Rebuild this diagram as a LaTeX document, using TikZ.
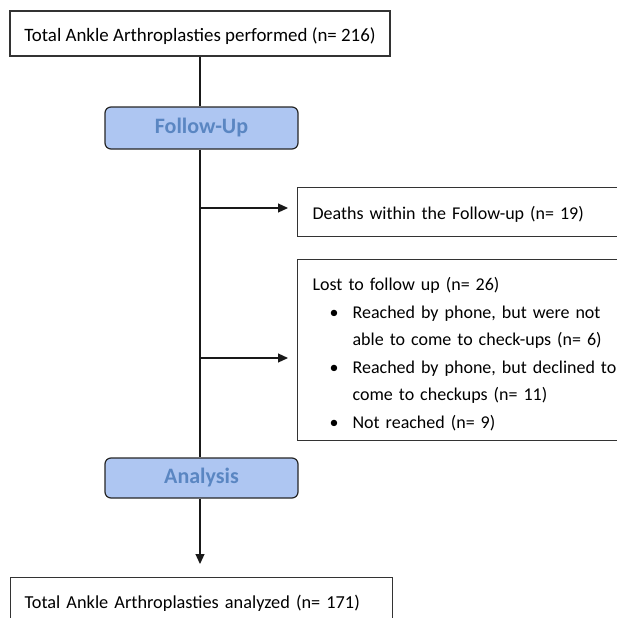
\documentclass[tikz,border=0pt]{standalone}
\usepackage{fontspec}
\setmainfont{Carlito}
\usetikzlibrary{arrows.meta}
\definecolor{phasefill}{HTML}{AEC6F2}
\definecolor{phasetext}{HTML}{5A86C2}
\tikzset{
  countbox/.style={draw=black!80, line width=1.2pt, fill=white, inner xsep=14pt, font=\fontsize{18}{27.5}\selectfont},
  phasebox/.style={draw=black!85, line width=1.2pt, fill=phasefill, rounded corners=6pt,
    minimum width=193pt, minimum height=42pt, text=phasetext, font=\fontsize{22}{24}\selectfont\bfseries},
  flow/.style={line width=1.2pt, black!90},
  flowarrow/.style={flow, -{Triangle[length=10pt,width=9pt]}}
}
\begin{document}
\begin{tikzpicture}[x=1pt, y=-1pt]
        \useasboundingbox (0,0) rectangle (617,618);
        \clip (0,0) rectangle (617,618);

        % Phases
        \node[countbox, minimum width=380pt, minimum height=45pt, text height=17pt, text depth=0pt, font=\fontsize{18.9}{22}\selectfont] (total) at (200,33.5) {Total Ankle Arthroplasties performed (n= 216)};
        \node[phasebox] (followup) at (201.5,128) {Follow-Up};
        \node[phasebox, minimum height=40pt] (analysis) at (201.5,478) {Analysis};

        % Exclusions
        \node[countbox, anchor=north west, minimum width=343pt, minimum height=49pt, text width=315pt, inner xsep=15pt, text height=15pt, text depth=0pt] (deaths) at (297,187) {Deaths within the Follow-up (n= 19)};
        \node[countbox, anchor=north west, minimum width=343pt, minimum height=181pt, text width=315pt, inner xsep=15pt, inner ysep=8pt, align=left] (lost) at (297,259) {%
            \rule{0pt}{21.5pt}Lost to follow up (n= 26)\\
            \hspace*{17pt}\makebox[23pt][l]{•}Reached by phone, but were not\\
            \hspace*{40pt}able to come to check-ups (n= 6)\\
            \hspace*{17pt}\makebox[23pt][l]{•}Reached by phone, but declined to\\
            \hspace*{40pt}come to checkups (n= 11)\\
            \hspace*{17pt}\makebox[23pt][l]{•}Not reached (n= 9)};

        % Result
        \node[countbox, anchor=north west, minimum width=382pt, minimum height=52pt, text width=354pt, font=\fontsize{18.3}{22}\selectfont] (analyzed) at (10,577) {Total Ankle Arthroplasties analyzed (n= 171)};

        % Connectors
        \coordinate (split1) at (200,208);
        \coordinate (split2) at (200,358);
        \draw[flow] (total) -- (total |- followup.north);
        \draw[flow] (split1 |- followup.south) -- (split1 |- analysis.north);
        \draw[flowarrow, shorten >=9pt] (split1) -- (split1 -| deaths.west);
        \draw[flowarrow, shorten >=9pt] (split2) -- (split2 -| lost.west);
        \draw[flowarrow, shorten >=13pt] (split1 |- analysis.south) -- (split1 |- analyzed.north);
\end{tikzpicture}
\end{document}
